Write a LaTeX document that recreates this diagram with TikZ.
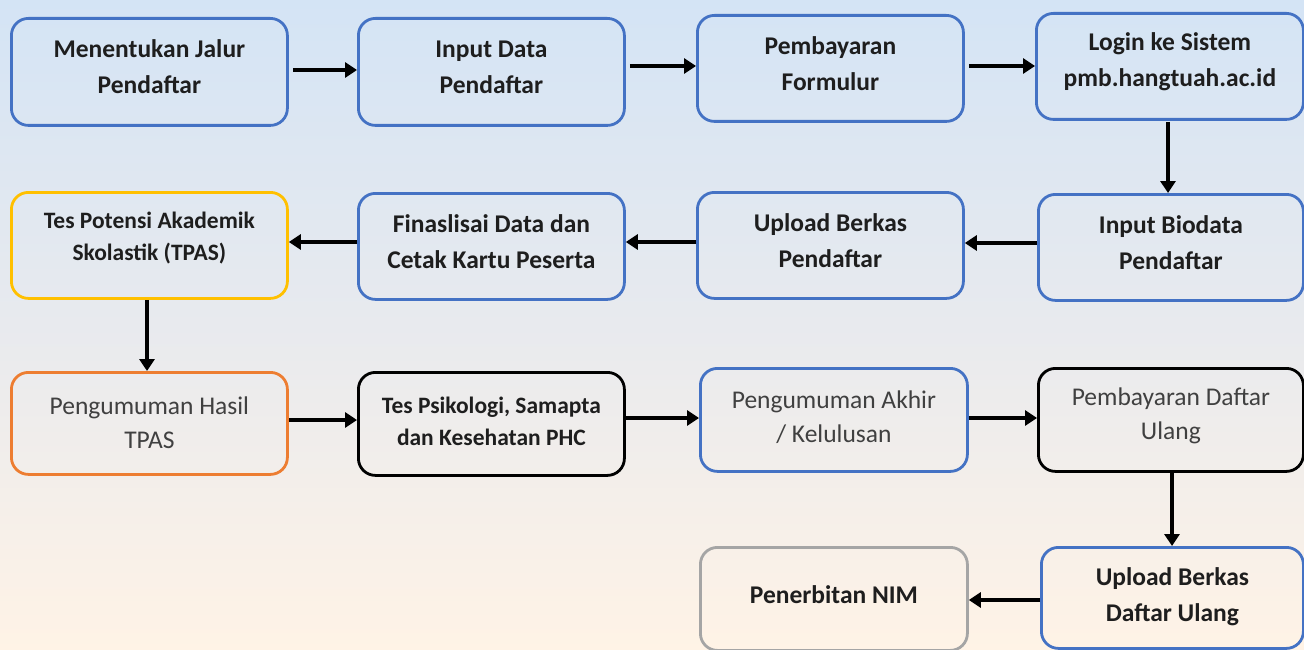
\documentclass[tikz,border=0pt]{standalone}
\usepackage{fontspec}
\setmainfont{Carlito}
\usetikzlibrary{arrows.meta}
\definecolor{bgtop}{RGB}{212,228,245}
\definecolor{bgbot}{RGB}{255,243,230}
\definecolor{obl}{RGB}{68,114,196}
\definecolor{oyel}{RGB}{255,192,0}
\definecolor{oora}{RGB}{237,125,49}
\definecolor{ogry}{RGB}{165,165,165}
\definecolor{txt}{RGB}{30,30,30}
\definecolor{txtr}{RGB}{64,64,64}
\begin{document}
\begin{tikzpicture}[x=1pt,y=-1pt,
  box/.style={draw=obl, line width=2.8pt, rounded corners=17pt, anchor=north west, inner sep=0pt},
  lbl/.style={text=txt, font=\fontsize{25.5}{36}\selectfont\bfseries, align=center, inner sep=0pt},
  reg/.style={font=\fontsize{25.5}{34}\selectfont, text=txtr},
  small/.style={font=\fontsize{23.5}{32}\selectfont\bfseries},
  arr/.style={line width=4.5pt, draw=black, -{Triangle[length=12pt,width=15pt]}}]
\shade[top color=bgtop, bottom color=bgbot, middle color={rgb,255:red,232;green,234;blue,238}] (0,0) rectangle (1304,650);
\useasboundingbox (0,0) rectangle (1304,650);
% row 1
\node[box, minimum width=276pt, minimum height=107pt] (b1) at (10,17) {};
\node[box, minimum width=266pt, minimum height=107pt] (b2) at (357,17) {};
\node[box, minimum width=266pt, minimum height=106pt] (b3) at (696,14) {};
\node[box, minimum width=267pt, minimum height=106pt] (b4) at (1035,12) {};
% row 2
\node[box, draw=oyel, minimum width=276pt, minimum height=106pt] (b5) at (10,191) {};
\node[box, minimum width=266pt, minimum height=106pt] (b6) at (357,192) {};
\node[box, minimum width=266pt, minimum height=106pt] (b7) at (696,191) {};
\node[box, minimum width=265pt, minimum height=106pt] (b8) at (1037,193) {};
% row 3
\node[box, draw=oora, minimum width=276pt, minimum height=102pt] (b9) at (10,371) {};
\node[box, draw=black, minimum width=266pt, minimum height=103pt] (b10) at (357,371) {};
\node[box, minimum width=267pt, minimum height=103pt] (b11) at (699,367) {};
\node[box, draw=black, minimum width=265pt, minimum height=103pt] (b12) at (1037,367) {};
% row 4
\node[box, draw=ogry, minimum width=267pt, minimum height=103pt] (b13) at (699,546) {};
\node[box, minimum width=262pt, minimum height=101pt] (b14) at (1040,546) {};
% texts
\node[lbl] (t1) at ([yshift=5pt]b1.center) {Menentukan Jalur\\Pendaftar};
\node[lbl] (t2) at ([yshift=5pt]b2.center) {Input Data\\Pendaftar};
\node[lbl] (t3) at ([yshift=5pt]b3.center) {Pembayaran\\Formulur};
\node[lbl] (t4) at ([yshift=5pt]b4.center) {Login ke Sistem\\pmb.hangtuah.ac.id};
\node[lbl, small] (t5) at ([yshift=7pt]b5.center) {Tes Potensi Akademik\\Skolastik (TPAS)};
\node[lbl] (t6) at ([yshift=5pt]b6.center) {Finaslisai Data dan\\Cetak Kartu Peserta};
\node[lbl] (t7) at ([yshift=5pt]b7.center) {Upload Berkas\\Pendaftar};
\node[lbl] (t8) at ([yshift=5pt]b8.center) {Input Biodata\\Pendaftar};
\node[lbl, reg] (t9) at ([yshift=1pt]b9.center) {Pengumuman Hasil\\TPAS};
\node[lbl, small] (t10) at ([yshift=3pt]b10.center) {Tes Psikologi, Samapta\\dan Kesehatan PHC};
\node[lbl, reg] (t11) at ([yshift=3pt]b11.center) {Pengumuman Akhir\\/ Kelulusan};
\node[lbl, reg] (t12) at ([yshift=4pt]b12.center) {Pembayaran Daftar\\Ulang};
\node[lbl] (t13) at ([yshift=4pt]b13.center) {Penerbitan NIM};
\node[lbl] (t14) at ([yshift=1pt]b14.center) {Upload Berkas\\Daftar Ulang};
% arrows
\draw[arr] (b1.east |- 0,70) ++(4,0) -- (b2.west |- 0,70);
\draw[arr] (b2.east |- 0,66) ++(4,0) -- (b3.west |- 0,66);
\draw[arr] (b3.east |- 0,66) ++(4,0) -- (b4.west |- 0,66);
\draw[arr] (1168,0 |- b4.south) ++(0,1) -- (1168,0 |- b8.north);
\draw[arr] (b8.west |- 0,243) -- (b7.east |- 0,243);
\draw[arr] (b7.west |- 0,242) -- (b6.east |- 0,242);
\draw[arr] (b6.west |- 0,242) -- (b5.east |- 0,242);
\draw[arr] (147,0 |- b5.south) -- (147,0 |- b9.north);
\draw[arr] (b9.east |- 0,420) -- (b10.west |- 0,420);
\draw[arr] (b10.east |- 0,418) -- (b11.west |- 0,418);
\draw[arr] (b11.east |- 0,418) -- (b12.west |- 0,418);
\draw[arr] (1172,0 |- b12.south) -- (1172,0 |- b14.north);
\draw[arr] (b14.west |- 0,600) -- (b13.east |- 0,600);
\end{tikzpicture}
\end{document}
